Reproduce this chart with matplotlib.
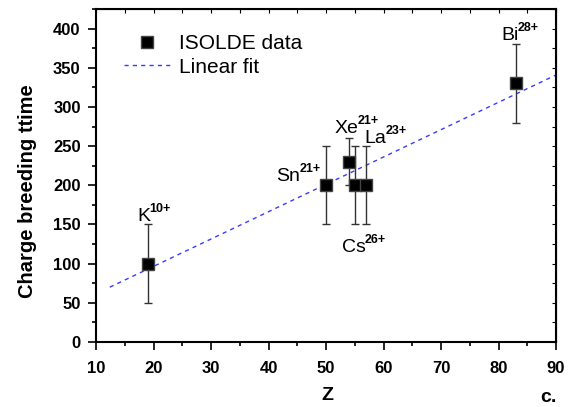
import matplotlib
matplotlib.use("Agg")
import matplotlib.pyplot as plt
from matplotlib.ticker import MultipleLocator
import numpy as np

plt.rcParams["font.family"] = ["Liberation Sans", "DejaVu Sans"]

# ── Data ──────────────────────────────────────────────
ions = ["K", "Sn", "Xe", "Cs", "La", "Bi"]
charges = ["10+", "21+", "21+", "26+", "23+", "28+"]
z_vals = [19, 50, 54, 55, 57, 83]
breed_time = [100, 200, 230, 200, 200, 330]
err_low = [50, 50, 30, 50, 50, 50]
err_high = [50, 50, 30, 50, 50, 50]

# label anchors (left edge Z, baseline value)
label_z = [17.2, 41.4, 51.5, 52.7, 56.7, 80.5]
label_y = [155, 205, 267, 115, 254, 385]

fit_intercept = 26.7
fit_slope = 3.49
fit_range = [12.4, 90]

# ── Plot ──────────────────────────────────────────────
fig = plt.figure(figsize=(5.8, 4.07), dpi=100)
ax = fig.add_axes([96 / 580, 1 - 342 / 407, 460 / 580, 333 / 407])

ax.errorbar(z_vals, breed_time, yerr=[err_low, err_high], fmt="none",
            ecolor="#333333", elinewidth=1.0, capsize=3, capthick=1.0, zorder=2)
ax.plot(z_vals, breed_time, "s", color="black", markersize=8,
        markeredgecolor="#444444", markeredgewidth=1.0, zorder=3,
        label="ISOLDE data")

xf = np.array(fit_range)
ax.plot(xf, fit_intercept + fit_slope * xf, linestyle=(0, (3, 3)),
        color="#3a3aff", linewidth=1.0, zorder=1, label="Linear fit")

# ion labels with superscript charge states
for ion, q, lz, ly in zip(ions, charges, label_z, label_y):
    base = ax.text(lz, ly, ion, fontsize=14, ha="left", va="baseline")
    ax.annotate(q, xy=(1, ly), xycoords=(base, "data"),
                xytext=(-0.8, 6.5), textcoords="offset points",
                fontsize=9, fontweight="bold", ha="left", va="baseline")

ax.set_xlim(10, 90)
ax.set_ylim(0, 425)
ax.xaxis.set_major_locator(MultipleLocator(10))
ax.xaxis.set_minor_locator(MultipleLocator(5))
ax.yaxis.set_major_locator(MultipleLocator(50))
ax.yaxis.set_minor_locator(MultipleLocator(25))

ax.tick_params(which="major", direction="out", length=6, width=1.2,
               labelsize=12, pad=5)
ax.tick_params(which="minor", direction="out", length=3, width=1.2)
ax.tick_params(axis="x", which="major", pad=8)
for lbl in ax.get_xticklabels() + ax.get_yticklabels():
    lbl.set_fontweight("bold")
for s in ax.spines.values():
    s.set_linewidth(1.5)

# inner ticks on top/right
ax2 = ax.secondary_xaxis("top")
ax2.xaxis.set_major_locator(MultipleLocator(5))
ax2.tick_params(which="both", direction="in", length=3, labeltop=False)
ax3 = ax.secondary_yaxis("right")
ax3.yaxis.set_major_locator(MultipleLocator(25))
ax3.tick_params(which="both", direction="in", length=3, labelright=False)

ax.set_xlabel("Z", fontsize=14, fontweight="bold")
ax.xaxis.set_label_coords((327 - 96) / 460, (342 - 396) / 333)
ax.xaxis.label.set_va("center")
ax.set_ylabel("Charge breeding ttime", fontsize=14.5, fontweight="bold")
ax.yaxis.set_label_coords((28 - 96) / 460, (342 - 191) / 333)
ax.yaxis.label.set_va("center")

ax.legend(loc="upper left", bbox_to_anchor=(0.02, 0.98), frameon=False,
          fontsize=15, handlelength=2.2, handletextpad=0.45,
          labelspacing=0.2)

fig.text(548 / 580, 1 - 398 / 407, "c.", fontsize=14, fontweight="bold",
         ha="center", va="center")

plt.savefig("out.png", dpi=100)
